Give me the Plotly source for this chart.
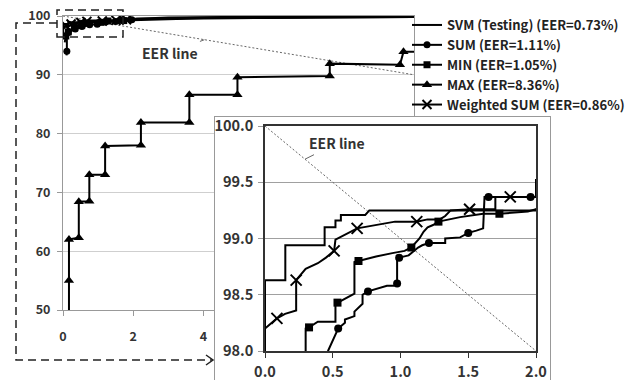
import plotly.graph_objects as go

W, H = 632, 380
FONT = "Noto Sans CJK KR"

# ---------------- data ----------------
eer_x = [0, 10]
eer_y = [100, 90]

svm_x = [0.0, 0.0, 0.15, 0.15, 0.44, 0.44, 0.52, 0.52, 0.56, 0.56, 0.74, 0.77, 2.0, 2.1, 3.0, 5.0, 10.0]
svm_y = [97.5, 98.63, 98.63, 98.94, 98.94, 99.10, 99.10, 99.16, 99.16, 99.21, 99.21, 99.25, 99.25, 99.55, 99.75, 99.85, 99.92]

sum_x = [0.10, 0.11, 0.11, 0.15, 0.25, 0.35, 0.465, 0.54, 0.59, 0.59, 0.66, 0.66, 0.72, 0.72, 0.76,
         0.90, 0.95, 0.975, 0.975, 0.99, 1.06, 1.09, 1.13, 1.16, 1.21, 1.33, 1.33, 1.44, 1.50, 1.56,
         1.61, 1.62, 1.65, 1.96, 2.0, 2.0, 3.5, 6.0, 10.0]
sum_y = [93.3, 94.0, 96.6, 97.2, 97.55, 97.8, 98.0, 98.2, 98.25, 98.28, 98.31, 98.35, 98.42, 98.5, 98.53,
         98.58, 98.58, 98.6, 98.82, 98.83, 98.85, 98.88, 98.92, 98.94, 98.96, 98.96, 99.0, 99.01, 99.05, 99.07,
         99.09, 99.37, 99.37, 99.37, 99.37, 99.52, 99.6, 99.75, 99.85]
sum_mark = [0, 1, 0, 1, 0, 1, 0, 1, 0, 0, 0, 0, 0, 0, 1,
            0, 0, 1, 0, 1, 0, 0, 0, 0, 1, 0, 0, 0, 1, 0,
            0, 0, 1, 1, 0, 0, 0, 0, 0]

min_x = [0.05, 0.08, 0.15, 0.30, 0.30, 0.325, 0.39, 0.52, 0.52, 0.535, 0.61, 0.66, 0.66, 0.69, 0.82,
         0.94, 1.03, 1.08, 1.11, 1.14, 1.17, 1.20, 1.24, 1.28, 1.44, 1.61, 1.73, 1.94, 2.0, 2.5,
         4.0, 7.0, 10.0]
min_y = [95.5, 96.6, 97.3, 97.6, 98.2, 98.21, 98.26, 98.26, 98.42, 98.43, 98.48, 98.51, 98.79, 98.8, 98.84,
         98.87, 98.89, 98.92, 98.96, 99.0, 99.06, 99.1, 99.12, 99.15, 99.19, 99.22, 99.22, 99.24, 99.26, 99.4,
         99.6, 99.75, 99.85]
min_mark = [0, 1, 1, 0, 0, 1, 0, 0, 0, 1, 0, 0, 0, 1, 0,
            0, 0, 1, 0, 0, 0, 0, 0, 1, 0, 0, 1, 0, 0, 0,
            0, 0, 0]

max_x = [0.17, 0.17, 0.17, 0.45, 0.45, 0.75, 0.75, 1.20, 1.20, 2.22, 2.22, 3.60, 3.60, 4.97, 4.97,
         7.60, 7.60, 9.60, 9.70, 10.0]
max_y = [50.0, 55.0, 62.0, 62.3, 68.4, 68.5, 73.0, 73.0, 77.9, 78.0, 81.9, 81.9, 86.6, 86.6, 89.6,
         89.8, 91.9, 91.7, 93.9, 93.9]
max_mark = [0, 1, 1, 1, 1, 1, 1, 1, 1, 1, 1, 1, 1, 1, 1,
            1, 1, 1, 1, 0]

wsum_x = [0.0, 0.0, 0.088, 0.148, 0.23, 0.23, 0.30, 0.39, 0.45, 0.51, 0.52, 0.60, 0.68, 0.96, 1.12,
          1.20, 1.29, 1.33, 1.37, 1.51, 1.70, 1.70, 1.81, 2.0, 2.2, 3.5, 6.0, 10.0]
wsum_y = [96.8, 98.2, 98.29, 98.33, 98.36, 98.63, 98.73, 98.78, 98.83, 98.89, 98.99, 99.04, 99.09, 99.15, 99.15,
          99.17, 99.17, 99.2, 99.25, 99.26, 99.26, 99.37, 99.37, 99.37, 99.45, 99.65, 99.8, 99.9]
wsum_mark = [0, 0, 1, 0, 0, 1, 0, 0, 0, 1, 0, 0, 1, 0, 1,
             0, 0, 0, 0, 1, 0, 0, 1, 0, 0, 0, 0, 0]

series_names = ["SVM (Testing) (EER=0.73%)", "SUM (EER=1.11%)", "MIN (EER=1.05%)",
                "MAX (EER=8.36%)", "Weighted SUM (EER=0.86%)"]

# ---------------- helpers ----------------
def fx(p):
    return p / W


def fy(p):
    return 1 - p / H


MAIN_X = [fx(63), fx(414)]
MAIN_Y = [fy(310), fy(16)]
BOX_X = [fx(215), fx(550)]
BOX_Y = [0.0, fy(117)]
INS_X = [fx(265), fx(536)]
INS_Y = [fy(351), fy(126)]

fig = go.Figure()

series = [
    (series_names[0], svm_x, svm_y, None, "circle", False),
    (series_names[1], sum_x, sum_y, sum_mark, "circle", False),
    (series_names[2], min_x, min_y, min_mark, "square", False),
    (series_names[3], max_x, max_y, max_mark, "triangle-up", False),
    (series_names[4], wsum_x, wsum_y, wsum_mark, "x-thin", True),
]

for axes, show in (("main", True), ("inset", False)):
    xa, ya = ("x", "y") if axes == "main" else ("x3", "y3")
    # EER line
    fig.add_trace(go.Scatter(x=eer_x, y=eer_y, mode="lines", xaxis=xa, yaxis=ya,
                             line=dict(color="#666", width=1, dash="2px,2px"),
                             showlegend=False, hoverinfo="skip"))
    for name, xs, ys, marks, sym, thin in series:
        if marks is None:
            fig.add_trace(go.Scatter(x=xs, y=ys, mode="lines", name=name, xaxis=xa, yaxis=ya,
                                     line=dict(color="black", width=2), showlegend=show))
            continue
        sel = [i for i, m in enumerate(marks) if m]
        if axes == "main":
            size = {"circle": 7, "square": 7, "triangle-up": 9, "x-thin": 9}[sym]
        else:
            size = {"circle": 8, "square": 8, "triangle-up": 9, "x-thin": 11}[sym]
        marker = dict(symbol=sym, size=size, color="black")
        if thin:
            marker["line"] = dict(color="black", width=2)
        fig.add_trace(go.Scatter(x=xs, y=ys, mode="lines+markers", name=name, xaxis=xa, yaxis=ya,
                                 line=dict(color="black", width=2), marker=marker,
                                 selectedpoints=sel,
                                 selected=dict(marker=dict(opacity=1)),
                                 unselected=dict(marker=dict(opacity=0)),
                                 showlegend=show))
    if axes == "main":
        # dummy subplot that forms the white inset panel
        fig.add_trace(go.Scatter(x=[None], y=[None], xaxis="x2", yaxis="y2",
                                 showlegend=False, hoverinfo="skip"))

tick_main = dict(family=FONT, size=12.5, color="#333", weight="bold")
tick_ins = dict(family=FONT, size=14.5, color="#333", weight="bold")

fig.update_layout(
    width=W, height=H, margin=dict(l=0, r=0, t=0, b=0, autoexpand=False),
    paper_bgcolor="white", plot_bgcolor="white",
    xaxis=dict(domain=MAIN_X, anchor="y", range=[0, 10], tickvals=[0, 2, 4, 6, 8, 10],
               ticks="outside", ticklen=5, tickcolor="#999", showline=True, linecolor="#999",
               mirror=True, showgrid=False, zeroline=False, tickfont=tick_main,
               ticklabelstandoff=10),
    yaxis=dict(domain=MAIN_Y, anchor="x", range=[50, 100], dtick=10,
               ticks="outside", ticklen=5, tickcolor="#999", showline=True, linecolor="#999",
               mirror=True, showgrid=True, gridcolor="#cfcfcf", zeroline=False, tickfont=tick_main,
               ticklabelstandoff=4),
    xaxis2=dict(domain=BOX_X, anchor="y2", range=[0, 1], side="top", showline=True,
                linecolor="#999", showgrid=False, zeroline=False, showticklabels=False, ticks=""),
    yaxis2=dict(domain=BOX_Y, anchor="x2", range=[0, 1], showline=True, mirror=True,
                linecolor="#999", showgrid=False, zeroline=False, showticklabels=False, ticks=""),
    xaxis3=dict(domain=INS_X, anchor="y3", range=[0, 2], dtick=0.5, tickformat=".1f",
                ticks="outside", ticklen=5, tickcolor="#333", showline=True, linecolor="#333",
                linewidth=1.5, mirror=True, showgrid=False, zeroline=False, tickfont=tick_ins,
                ticklabelstandoff=2),
    yaxis3=dict(domain=INS_Y, anchor="x3", range=[98, 100], dtick=0.5, tickformat=".1f",
                ticks="outside", ticklen=5, tickcolor="#999", showline=True, linecolor="#333",
                linewidth=1.5, mirror=True, showgrid=True, gridcolor="#a0a0a0", zeroline=False,
                tickfont=tick_ins, ticklabelstandoff=2),
    legend=dict(x=fx(407), y=fy(10), xanchor="left", yanchor="top", bgcolor="rgba(0,0,0,0)",
                font=dict(family=FONT, size=13, color="#222", weight="bold"),
                itemwidth=30),
)

# EER line labels
ann_font = dict(family=FONT, size=14, color="#333", weight="bold")
fig.add_annotation(x=4.03, y=95.97, xref="x", yref="y", text="EER line", showarrow=True,
                   ax=-34, ay=13, arrowhead=0, arrowwidth=1, arrowcolor="#666", font=ann_font)
fig.add_annotation(x=0.295, y=99.705, xref="x3", yref="y3", text="EER line", showarrow=True,
                   ax=32, ay=-16, arrowhead=0, arrowwidth=1, arrowcolor="#666", font=ann_font)

# dashed zoom indicator
dash_line = dict(color="#222", width=1.5, dash="8px,5px")
fig.add_shape(type="rect", xref="paper", yref="paper", x0=fx(57), x1=fx(123), y0=fy(37), y1=fy(10),
              line=dash_line, layer="above")


def path(points):
    return "M " + " L ".join(f"{fx(a):.5f},{fy(b):.5f}" for a, b in points)


fig.add_shape(type="path", xref="paper", yref="paper",
              path=path([(57, 23), (16, 23), (16, 360), (213, 360)]), line=dash_line, layer="above")
fig.add_shape(type="path", xref="paper", yref="paper",
              path=path([(206, 355), (213, 360), (206, 365)]),
              line=dict(color="#222", width=1.5), layer="above")

fig.write_html("out.html", config={"displayModeBar": False},
               post_script="document.body.style.margin='0px';document.body.style.overflow='hidden';")
